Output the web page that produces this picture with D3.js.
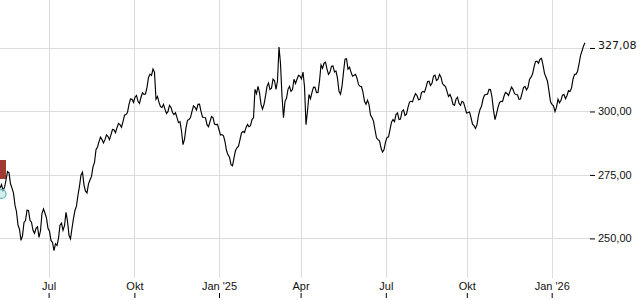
<!DOCTYPE html>
<html>
<head>
<meta charset="utf-8">
<script src="https://cdn.jsdelivr.net/npm/d3@7"></script>
<style>
  body { margin: 0; background: #fff; }
  svg { display: block; font-family: "DejaVu Sans", sans-serif; }
</style>
</head>
<body>
<svg id="chart"></svg>
<script>
// Kursverlauf, ein Wert je Zeitschritt (ca. 2-3 Handelstage)
const values = [
  269.8, 269.0, 273.0, 275.8, 269.8, 263.1, 255.2, 249.2, 256.3, 261.1,
  257.1, 253.2, 254.0, 250.4, 259.9, 259.9, 254.0, 249.2, 245.2, 247.2,
  255.2, 253.2, 260.3, 251.2, 254.0, 261.1, 267.1, 275.0, 271.0, 267.9,
  273.0, 278.2, 284.9, 288.1, 288.9, 288.9, 290.1, 290.9, 292.8, 293.6,
  294.8, 296.0, 298.8, 302.8, 304.8, 305.6, 304.0, 305.6, 306.7, 309.5,
  314.7, 316.7, 304.8, 303.6, 301.6, 300.8, 300.0, 301.6, 298.8, 297.6,
  296.0, 286.9, 293.6, 296.8, 300.0, 301.6, 302.8, 300.0, 297.6, 294.8,
  296.0, 297.6, 294.8, 292.8, 290.9, 288.1, 282.9, 279.0, 281.7, 285.7,
  288.9, 292.1, 293.6, 294.0, 296.8, 308.7, 309.9, 302.8, 302.8, 309.9,
  308.7, 312.7, 308.7, 325.4, 306.0, 304.0, 308.7, 307.9, 312.7, 312.7,
  313.9, 315.5, 294.8, 306.7, 307.5, 309.5, 307.5, 318.3, 319.0, 316.7,
  315.5, 317.9, 315.9, 307.9, 309.9, 320.6, 316.7, 315.5, 314.3, 313.1,
  309.9, 307.5, 302.8, 302.8, 297.6, 292.8, 288.9, 285.7, 284.9, 289.7,
  292.8, 296.8, 298.8, 296.8, 300.0, 298.4, 301.6, 304.0, 305.6, 306.3,
  304.8, 307.9, 309.5, 311.9, 311.1, 314.3, 312.7, 313.5, 310.3, 307.9,
  306.7, 302.8, 304.8, 303.2, 304.0, 301.6, 299.6, 297.6, 294.4, 294.8,
  300.8, 304.8, 306.7, 308.7, 305.6, 296.8, 301.6, 304.0, 306.0, 307.1,
  307.9, 308.7, 306.7, 304.8, 307.1, 309.9, 309.5, 313.5, 317.5, 319.8,
  320.6, 318.3, 313.5, 307.9, 302.8, 300.0, 304.8, 304.4, 306.7, 306.3,
  307.9, 312.7, 314.7, 318.6, 323.8, 327.08
];

// Zwischenwerte (Schwankung innerhalb eines Zeitschritts)
const midValues = [
  271.2, 270.0, 276.3, 271.5, 267.8, 260.5, 253.6, 251.0, 257.0, 261.0,
  256.4, 252.0, 254.6, 253.0, 261.6, 258.0, 252.8, 248.4, 247.9, 250.0,
  256.0, 255.0, 256.8, 249.8, 257.9, 262.8, 270.6, 276.1, 268.6, 271.5,
  274.4, 279.9, 286.0, 289.9, 287.6, 290.8, 288.9, 292.9, 291.6, 295.3,
  293.8, 298.5, 299.6, 304.9, 303.6, 306.3, 303.2, 307.3, 306.9, 313.4,
  314.2, 315.4, 305.9, 301.9, 302.8, 299.2, 302.4, 299.6, 299.5, 295.6,
  292.3, 289.0, 296.5, 297.6, 302.2, 300.6, 302.9, 297.8, 297.5, 294.0,
  298.0, 295.0, 294.9, 290.7, 290.4, 284.6, 282.0, 278.6, 284.6, 286.3,
  291.6, 291.7, 294.9, 294.4, 297.5, 307.0, 307.4, 300.9, 306.0, 311.2,
  309.2, 312.2, 312.0, 318.9, 297.5, 305.2, 309.9, 308.6, 311.0, 314.2,
  312.8, 309.8, 300.2, 305.0, 309.6, 307.4, 312.0, 317.0, 319.4, 314.6,
  317.8, 315.6, 313.0, 306.8, 315.5, 320.8, 317.4, 313.9, 314.6, 310.6,
  309.8, 304.0, 304.4, 298.6, 296.2, 289.6, 288.4, 284.0, 287.9, 290.0,
  295.8, 296.0, 299.4, 297.0, 300.6, 298.9, 303.7, 303.8, 307.0, 304.6,
  307.4, 307.6, 311.7, 310.2, 313.9, 312.2, 314.6, 311.0, 309.8, 305.9,
  305.2, 302.4, 305.6, 302.4, 303.6, 299.4, 299.8, 295.0, 293.3, 298.5,
  302.0, 306.5, 306.8, 308.6, 300.4, 299.0, 303.5, 303.9, 307.5, 306.3,
  309.6, 307.0, 306.6, 304.9, 309.4, 308.5, 312.6, 314.6, 319.6, 319.0,
  320.9, 315.0, 311.9, 303.8, 302.2, 301.7, 303.4, 306.4, 305.0, 308.2,
  309.2, 314.6, 315.7, 322.0, 325.8
];

// Monatsanfänge (Position im Zeitschritt-Index) und Beschriftungen
const xTickPos = [16.2, 44.8, 73, 100.2, 128.6, 155.6, 183.9];
const xTickLabels = ["Jul", "Okt", "Jan '25", "Apr", "Jul", "Okt", "Jan '26"];

const yTicks = [250, 275, 300, 325];
const lastValue = values[values.length - 1];

// Ereignis-Markierungen am linken Rand
const flagMarks = [{ i: 0, value: 273.4 }];
const circleMarks = [{ i: 0, value: 267.5 }];

const width = 640, height = 300;
const plotRight = 590, plotBottom = 278;

const de = d3.formatLocale({ decimal: ",", thousands: ".", grouping: [3], currency: ["", " €"] });
const fmt = de.format(",.2f");

// Reihe aus Schrittwerten und Zwischenwerten zusammensetzen
const series = values.flatMap((v, i) =>
  i < midValues.length ? [{ t: i, v }, { t: i + 0.5, v: midValues[i] }] : [{ t: i, v }]
);

const svg = d3.select("#chart").attr("width", width).attr("height", height);

const x = d3.scaleLinear()
  .domain([0, values.length - 1])
  .range([0, 585]);

const y = d3.scaleLinear()
  .domain([234.4, 343.9])
  .range([plotBottom, 0]);

// Gitterlinien
svg.append("g")
  .selectAll("line")
  .data(yTicks)
  .enter()
  .append("line")
  .attr("x1", 0)
  .attr("x2", plotRight)
  .attr("y1", d => Math.round(y(d)) + 0.5)
  .attr("y2", d => Math.round(y(d)) + 0.5)
  .attr("stroke", "#dcdcdc");

svg.append("g")
  .selectAll("line")
  .data(xTickPos)
  .enter()
  .append("line")
  .attr("x1", d => Math.round(x(d)) + 0.5)
  .attr("x2", d => Math.round(x(d)) + 0.5)
  .attr("y1", 0)
  .attr("y2", plotBottom)
  .attr("stroke", "#dcdcdc");

// Kurslinie
const line = d3.line()
  .x(d => x(d.t))
  .y(d => y(d.v));

svg.append("path")
  .datum(series)
  .attr("fill", "none")
  .attr("stroke", "#000")
  .attr("stroke-width", 1.15)
  .attr("d", line);

// Markierungen
svg.append("g")
  .selectAll("rect")
  .data(flagMarks)
  .enter()
  .append("rect")
  .attr("x", d => x(d.i) - 6)
  .attr("y", d => y(d.value) - 19)
  .attr("width", 12)
  .attr("height", 19)
  .attr("fill", "#a13a32");

svg.append("g")
  .selectAll("circle")
  .data(circleMarks)
  .enter()
  .append("circle")
  .attr("cx", d => x(d.i) + 1.5)
  .attr("cy", d => y(d.value))
  .attr("r", 4.5)
  .attr("fill", "rgba(90,180,190,0.25)")
  .attr("stroke", "#5fb3bd")
  .attr("stroke-width", 1.2);

// Y-Achse rechts
const yAxis = svg.append("g")
  .attr("transform", `translate(${plotRight},0)`)
  .call(
    d3.axisRight(y)
      .tickValues(yTicks)
      .tickSize(5)
      .tickPadding(3)
      .tickFormat(d => d === 325 ? "" : fmt(d))
  );
yAxis.select(".domain").remove();
yAxis.selectAll("text").style("font-size", "11px").attr("fill", "#111");

svg.append("text")
  .attr("x", plotRight + 8)
  .attr("y", y(lastValue))
  .attr("dy", "0.6em")
  .style("font-size", "11px")
  .attr("fill", "#111")
  .text(fmt(lastValue));

// X-Achse unten, Beschriftung über den Strichen
const xAxis = svg.append("g")
  .attr("transform", `translate(0,298)`)
  .call(
    d3.axisTop(x)
      .tickValues(xTickPos)
      .tickSize(5)
      .tickPadding(3)
      .tickFormat((d, i) => xTickLabels[i])
  );
xAxis.select(".domain").remove();
xAxis.selectAll("text").style("font-size", "11px").attr("fill", "#111");
</script>
</body>
</html>
